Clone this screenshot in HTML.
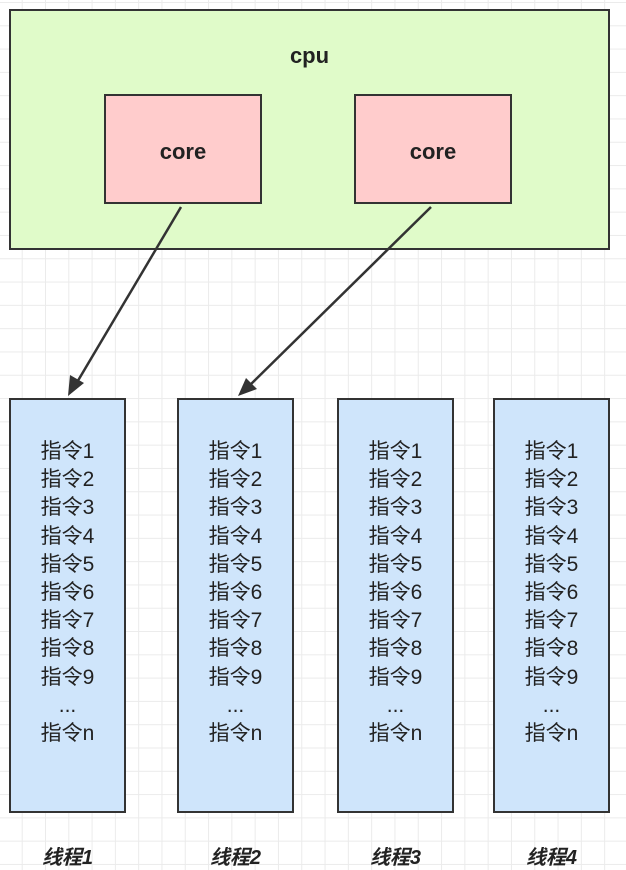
<!DOCTYPE html>
<html><head><meta charset="utf-8"><style>
body{margin:0;width:626px;height:870px;overflow:hidden;background:#fff;
background-image:linear-gradient(#ebebeb 1px,transparent 1px),linear-gradient(90deg,#ebebeb 1px,transparent 1px);
background-size:23.3px 23.3px;background-position:-1.6px 2px;font-family:"Liberation Sans","Noto Sans CJK SC",sans-serif;position:relative}
.b{position:absolute;box-sizing:border-box;border:2px solid #333}
.cpu{left:9px;top:9px;width:601px;height:241px;background:#e0fbc9}
.core{width:158px;height:110px;top:94px;padding-top:6px;background:#ffcccc;display:flex;align-items:center;justify-content:center;font-weight:bold;font-size:22px;color:#222}
.t{top:398px;width:117px;height:415px;background:#cfe5fb;text-align:center;font-size:21px;line-height:28.2px;padding-top:38px;color:#222}
.l{position:absolute;top:841px;font-weight:bold;font-style:italic;font-size:20px;color:#222;width:117px;text-align:center}
</style></head><body>
<div class="b cpu"></div>
<div style="position:absolute;left:9px;top:43px;width:601px;text-align:center;font-weight:bold;font-size:22px;color:#222">cpu</div>
<div class="b core" style="left:104px">core</div>
<div class="b core" style="left:354px">core</div>
<div class="b t" style="left:9px">指令1<br>指令2<br>指令3<br>指令4<br>指令5<br>指令6<br>指令7<br>指令8<br>指令9<br>...<br>指令n</div>
<div class="b t" style="left:177px">指令1<br>指令2<br>指令3<br>指令4<br>指令5<br>指令6<br>指令7<br>指令8<br>指令9<br>...<br>指令n</div>
<div class="b t" style="left:337px">指令1<br>指令2<br>指令3<br>指令4<br>指令5<br>指令6<br>指令7<br>指令8<br>指令9<br>...<br>指令n</div>
<div class="b t" style="left:493px">指令1<br>指令2<br>指令3<br>指令4<br>指令5<br>指令6<br>指令7<br>指令8<br>指令9<br>...<br>指令n</div>
<div class="l" style="left:9px">线程1</div>
<div class="l" style="left:177px">线程2</div>
<div class="l" style="left:337px">线程3</div>
<div class="l" style="left:493px">线程4</div>
<svg width="626" height="870" style="position:absolute;left:0;top:0">
<line x1="181" y1="207" x2="76" y2="384" stroke="#333" stroke-width="2.5"/>
<path d="M68,396 L70,375 L84,383 Z" fill="#333"/>
<line x1="431" y1="207" x2="248" y2="387" stroke="#333" stroke-width="2.5"/>
<path d="M238,396 L246,378 L257,389 Z" fill="#333"/>
</svg>
</body></html>
